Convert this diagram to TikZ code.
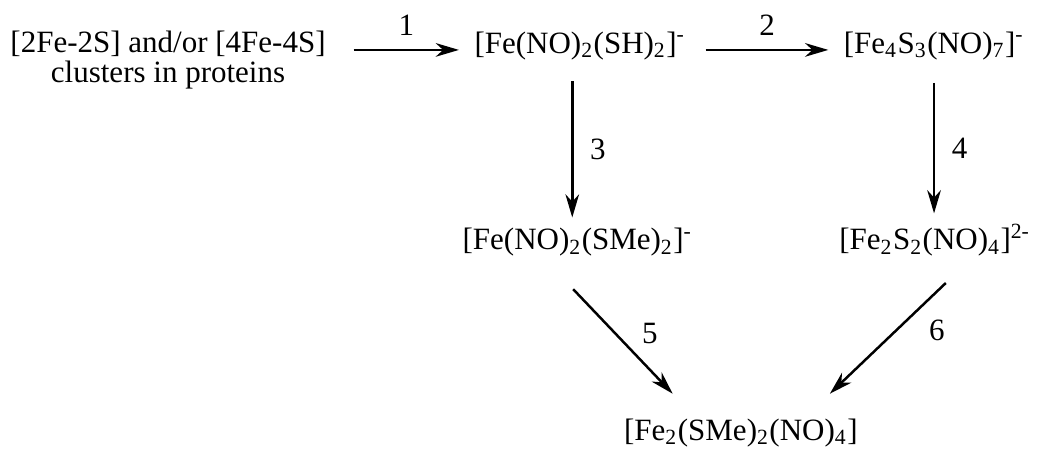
\documentclass[tikz,border=0pt]{standalone}
\usepackage{fontspec}
\setmainfont{Liberation Serif}
\usetikzlibrary{arrows.meta,calc}

\begin{document}
\begin{tikzpicture}[font=\fontsize{10}{9.6}\selectfont,
  cpd/.style={anchor=base},
  rxn/.style={-{Stealth[length=7.5pt,width=4.4pt,inset=2.4pt]}, line width=0.8pt}]
  \useasboundingbox (0,0) rectangle (11.78,-5.125);
  % species
  \node[align=center] (clusters) at (1.905,-0.68) {[2Fe-2S] and/or [4Fe-4S]\\clusters in proteins};
  \node[cpd] (feSH) at (6.576,-0.601) {[Fe(NO)\textsubscript{2}(SH)\textsubscript{2}]\textsuperscript{-}};
  \node[cpd] (fe4) at (10.59,-0.601) {[Fe\textsubscript{4}S\textsubscript{3}(NO)\textsubscript{7}]\textsuperscript{-}};
  \node[cpd] (feSMe) at (6.548,-2.834) {[Fe(NO)\textsubscript{2}(SMe)\textsubscript{2}]\textsuperscript{-}};
  \node[cpd] (fe2S2) at (10.60,-2.834) {[Fe\textsubscript{2}S\textsubscript{2}(NO)\textsubscript{4}]\textsuperscript{2-}};
  \node[cpd] (prod) at (8.40,-4.99) {[Fe\textsubscript{2}(SMe)\textsubscript{2}(NO)\textsubscript{4}]};
  % reactions
  \draw[rxn] ($(clusters.east |- feSH.base)+(5.5pt,1pt)$) -- ([shift={(-1.5pt,1pt)}]feSH.base west) node[midway,above=1pt]{1};
  \draw[rxn] ([shift={(3pt,1pt)}]feSH.base east) -- ([shift={(-1.5pt,1pt)}]fe4.base west) node[midway,above=1pt]{2};
  \draw[rxn] ([shift={(-2.5pt,-3.5pt)}]feSH.south) -- ([xshift=-2.5pt]feSH.south |- feSMe.north) node[midway,right=2pt]{3};
  \draw[rxn] ([yshift=-4pt]fe4.south) -- (fe4.south |- fe2S2.north) node[midway,right=2pt]{4};
  \draw[rxn] ([shift={(-1.4pt,-7pt)}]feSMe.south) -- ([shift={(-22pt,4.5pt)}]prod.north) node[pos=0.42,right=5pt]{5};
  \draw[rxn] ([shift={(3.5pt,-5pt)}]fe2S2.south) -- ([shift={(28.7pt,4.5pt)}]prod.north) node[pos=0.43,right=7pt]{6};
\end{tikzpicture}
\end{document}
